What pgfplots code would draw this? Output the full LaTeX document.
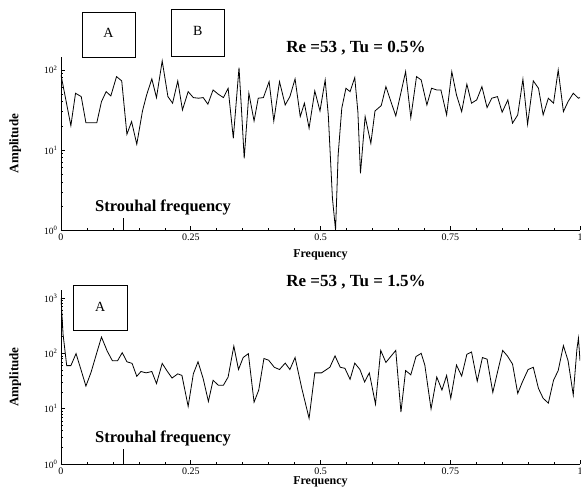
\documentclass[border=0pt]{standalone}
\usepackage{pgfplots}
\pgfplotsset{compat=1.18}
\usepackage{fontspec}
\setmainfont{Liberation Serif}
\begin{document}
\begin{tikzpicture}
\useasboundingbox (0pt,0pt) rectangle (581pt,488pt);
% top axis
\begin{axis}[scale only axis, width=519pt, height=173pt,
  at={(61pt,258pt)}, anchor=south west,
  xmin=0, xmax=1, ymode=log, ymin=1, ymax=145,
  axis x line*=bottom, axis y line*=left,
  xtick={0,0.25,0.5,0.75,1}, xticklabels={0,0.25,0.5,0.75,1},
  minor x tick num=4,
  ytick={1,10,100}, yticklabels={10\textsuperscript{0},10\textsuperscript{1},10\textsuperscript{2}},
  minor ytick={2,3,4,5,6,7,8,9,20,30,40,50,60,70,80,90},
  tick align=inside,
  major tick length=4pt, minor tick length=2.5pt,
  tick style={black, line width=0.6pt},
  xticklabel style={font=\fontsize{10}{10}\selectfont},
  yticklabel style={font=\fontsize{9.5}{9.5}\selectfont},
  axis line style={line width=0.8pt},
  xlabel={Frequency}, ylabel={Amplitude},
  xlabel style={font=\fontsize{12}{12}\selectfont\bfseries, at={(axis description cs:0.5,-0.145)}, anchor=center},
  ylabel style={font=\fontsize{13}{13}\selectfont\bfseries, at={(axis description cs:-0.088,0.5)}, anchor=center}]
\addplot[black, line width=0.8pt] coordinates {
(0,86.6) (0.019,20.1) (0.028,51.1) (0.039,46.4) (0.048,21.9) (0.069,21.9) (0.078,40.2) (0.087,53.5) (0.096,47.3) (0.107,82.5) (0.117,72.9) (0.127,15.7) (0.136,22.6) (0.146,11.8) (0.157,30.7) (0.165,48.7) (0.175,77.2) (0.184,45.1) (0.195,129.6) (0.206,46.4) (0.215,38.4) (0.225,72.9) (0.234,31.6) (0.245,53.5) (0.255,45.1) (0.265,44.3) (0.274,45.1) (0.283,37.3) (0.293,56.2) (0.303,49.7) (0.313,45.1) (0.322,59.0) (0.332,14.0) (0.343,106.9) (0.348,30.1) (0.353,7.87) (0.362,51.1) (0.372,23.0) (0.380,44.3) (0.390,45.1) (0.401,71.4) (0.410,23.0) (0.421,71.4) (0.432,36.5) (0.441,46.4) (0.451,77.2) (0.461,26.1) (0.469,38.4) (0.478,18.7) (0.489,54.6) (0.499,30.7) (0.509,75.0) (0.515,27.4) (0.523,2.49) (0.529,1.0) (0.534,8.66) (0.541,33.2) (0.549,59.0) (0.557,53.5) (0.566,80.2) (0.572,30.1) (0.577,5.11) (0.586,26.1) (0.597,12.1) (0.605,30.7) (0.617,35.8) (0.626,61.8) (0.645,26.6) (0.664,95.2) (0.674,25.3) (0.685,82.5) (0.694,75.0) (0.705,36.5) (0.714,59.0) (0.724,56.2) (0.732,56.2) (0.743,27.4) (0.753,95.2) (0.762,48.7) (0.772,30.1) (0.782,66.3) (0.791,38.4) (0.801,42.2) (0.811,61.8) (0.821,33.8) (0.830,44.3) (0.841,46.4) (0.850,29.6) (0.861,42.2) (0.870,21.6) (0.880,27.4) (0.890,76.5) (0.899,20.9) (0.910,72.9) (0.920,59.0) (0.929,27.4) (0.939,44.3) (0.949,38.4) (0.958,100) (0.968,30.1) (0.977,40.2) (0.987,51.1) (0.997,44.3) (1.0,45.1)
};
\draw[line width=0.8pt] (axis cs:0.12,1) -- ++(0pt,12pt);
\end{axis}
% bottom axis
\begin{axis}[scale only axis, width=519pt, height=174pt,
  at={(61pt,24pt)}, anchor=south west,
  xmin=0, xmax=1, ymode=log, ymin=1, ymax=1396,
  axis x line*=bottom, axis y line*=left,
  xtick={0,0.25,0.5,0.75,1}, xticklabels={0,0.25,0.5,0.75,1},
  minor x tick num=4,
  ytick={1,10,100,1000}, yticklabels={10\textsuperscript{0},10\textsuperscript{1},10\textsuperscript{2},10\textsuperscript{3}},
  minor ytick={2,3,4,5,6,7,8,9,20,30,40,50,60,70,80,90,200,300,400,500,600,700,800,900},
  tick align=inside,
  major tick length=4pt, minor tick length=2.5pt,
  tick style={black, line width=0.6pt},
  xticklabel style={font=\fontsize{10}{10}\selectfont},
  yticklabel style={font=\fontsize{9.5}{9.5}\selectfont},
  axis line style={line width=0.8pt},
  xlabel={Frequency}, ylabel={Amplitude},
  xlabel style={font=\fontsize{12}{12}\selectfont\bfseries, at={(axis description cs:0.5,-0.103)}, anchor=center},
  ylabel style={font=\fontsize{13}{13}\selectfont\bfseries, at={(axis description cs:-0.088,0.5)}, anchor=center}]
\addplot[black, line width=0.8pt] coordinates {
(0,1000) (0.004,220) (0.011,60.0) (0.019,60.0) (0.029,98.8) (0.039,48.9) (0.048,25.6) (0.058,45.7) (0.069,102.8) (0.078,197) (0.089,110) (0.099,73.5) (0.109,73.5) (0.118,102.8) (0.127,70.5) (0.137,65.8) (0.146,38.4) (0.154,47.0) (0.164,44.4) (0.175,47.0) (0.184,28.4) (0.195,65.8) (0.205,47.0) (0.214,35.8) (0.225,42.6) (0.233,39.9) (0.245,11.0) (0.255,42.6) (0.264,70.5) (0.274,34.8) (0.284,13.5) (0.293,32.6) (0.303,26.6) (0.313,26.6) (0.322,37.3) (0.333,135) (0.342,51.0) (0.351,84.0) (0.361,98.8) (0.372,13.1) (0.381,21.7) (0.391,80.6) (0.400,75.3) (0.411,56.0) (0.421,51.0) (0.432,66.6) (0.441,51.0) (0.451,84.0) (0.464,23.2) (0.478,6.69) (0.489,44.4) (0.502,44.4) (0.518,56.0) (0.528,90.0) (0.538,56.0) (0.547,53.7) (0.557,33.9) (0.566,66.6) (0.576,51.0) (0.585,30.4) (0.594,44.4) (0.606,12.1) (0.616,113) (0.626,68.5) (0.645,113) (0.655,8.64) (0.664,48.9) (0.674,40.9) (0.684,87.5) (0.694,100) (0.701,61.4) (0.713,9.88) (0.724,37.3) (0.734,21.7) (0.743,39.9) (0.751,15.4) (0.762,61.4) (0.772,38.8) (0.782,96.0) (0.791,106) (0.802,31.3) (0.812,84.0) (0.821,78.4) (0.832,19.7) (0.841,45.7) (0.851,113) (0.860,90.0) (0.870,64.0) (0.880,18.9) (0.889,30.4) (0.900,51.0) (0.910,56.0) (0.920,23.2) (0.929,15.4) (0.939,12.6) (0.949,32.6) (0.958,48.9) (0.968,138) (0.977,73.5) (0.987,17.7) (0.994,118) (0.997,189) (1.0,73.5)
};
\draw[line width=0.8pt] (axis cs:0.12,1) -- ++(0pt,15pt);
\end{axis}
% annotations
\node[font=\fontsize{17}{17}\selectfont\bfseries] at (356pt,440pt) {Re =53 , Tu = 0.5\%};
\node[font=\fontsize{17}{17}\selectfont\bfseries] at (356pt,206pt) {Re =53 , Tu = 1.5\%};
\node[font=\fontsize{16.5}{16.5}\selectfont\bfseries] at (163pt,281pt) {Strouhal frequency};
\node[font=\fontsize{16.5}{16.5}\selectfont\bfseries] at (163pt,50pt) {Strouhal frequency};
\draw[line width=1pt] (82pt,430pt) rectangle (135pt,475.3pt);
\node[font=\fontsize{14}{14}\selectfont] at (108.5pt,455pt) {A};
\draw[line width=1pt] (171.7pt,431.3pt) rectangle (224pt,478pt);
\node[font=\fontsize{14}{14}\selectfont] at (197.8pt,457pt) {B};
\draw[line width=1pt] (73.3pt,157.3pt) rectangle (127.3pt,203pt);
\node[font=\fontsize{14}{14}\selectfont] at (100.3pt,181pt) {A};
\end{tikzpicture}
\end{document}
